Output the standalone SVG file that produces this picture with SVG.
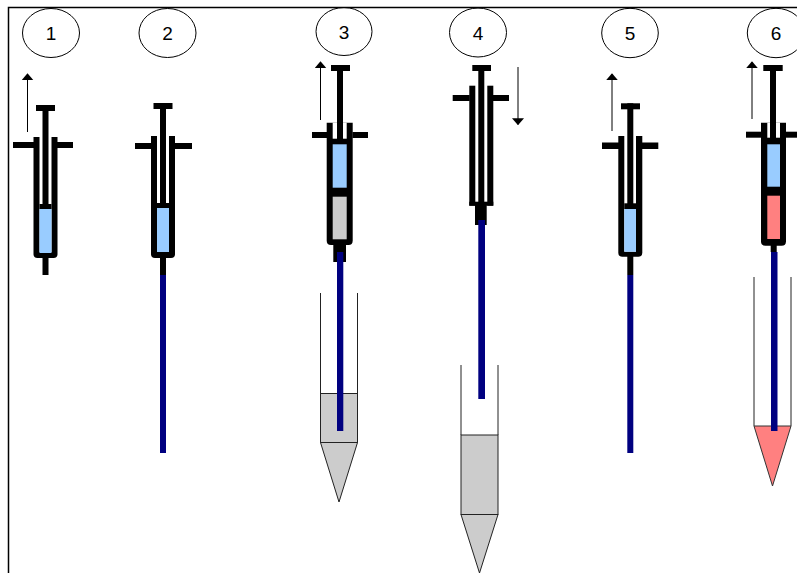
<svg xmlns="http://www.w3.org/2000/svg" width="797" height="573" viewBox="0 0 797 573">
  <style>
    .k { fill: #000; }
    .wh { fill: #fff; }
    .blue { fill: #99CCFF; }
    .grey { fill: #CCCCCC; stroke: #222; stroke-width: 1; }
    .red { fill: #FF8080; stroke: #333; stroke-width: 1; }
    .liqg { fill: #CCCCCC; }
    .liqr { fill: #FF8080; }
    .navy { fill: #000080; }
    .wall { stroke: #222; stroke-width: 1; fill: none; }
    .badge { fill: none; stroke: #000; stroke-width: 1; }
    .num { font-family: "Liberation Sans", Arial, sans-serif; font-size: 19px; fill: #000; text-anchor: middle; }
    .arr { stroke: #000; stroke-width: 1; fill: none; }
    .frame { stroke: #000; stroke-width: 1.5; fill: none; }
  </style>
  <defs>
    <marker id="head" viewBox="0 0 10 10" refX="9" refY="5" markerWidth="7" markerHeight="12" markerUnits="userSpaceOnUse" orient="auto" preserveAspectRatio="none">
      <path d="M0,0 L10,5 L0,10 Z" fill="#000"/>
    </marker>
  </defs>

  <rect width="797" height="573" fill="#fff"/>
  <path class="frame" d="M8.5,573 V7.5 H797"/>

  <!-- step 1: syringe drawing liquid up, no needle -->
  <g id="step1">
    <ellipse class="badge" cx="51" cy="33" rx="28.5" ry="24.5"/>
    <text class="num" x="51" y="40">1</text>
    <rect class="k" x="36" y="105" width="19" height="6"/>
    <rect class="k" x="13" y="142" width="21" height="6"/>
    <rect class="k" x="57" y="142" width="16" height="6"/>
    <path class="k" d="M33.5,137 V254 Q33.5,258 37.5,258 H53.5 Q57.5,258 57.5,254 V137 Z"/>
    <rect class="wh" x="39.5" y="137" width="12" height="115"/>
    <rect class="k" x="42.5" y="105" width="6" height="100"/>
    <rect class="k" x="39.5" y="204" width="12" height="5"/>
    <rect class="blue" x="39.5" y="209" width="12" height="44"/>
    <rect class="k" x="42.5" y="256" width="6" height="19"/>
  </g>

  <!-- step 2: needle fitted -->
  <g id="step2">
    <ellipse class="badge" cx="167.5" cy="33" rx="28.5" ry="24.5"/>
    <text class="num" x="167.5" y="40">2</text>
    <rect class="k" x="153.5" y="103" width="19" height="6"/>
    <rect class="k" x="135" y="143" width="16" height="6"/>
    <rect class="k" x="175" y="143" width="17" height="6"/>
    <path class="k" d="M151,136 V254 Q151,258 155,258 H171 Q175,258 175,254 V136 Z"/>
    <rect class="wh" x="157" y="136" width="12" height="116"/>
    <rect class="k" x="160" y="103" width="6" height="105"/>
    <rect class="k" x="157" y="203" width="12" height="5"/>
    <rect class="blue" x="157" y="208" width="12" height="44"/>
    <rect class="k" x="160" y="256" width="6" height="19"/>
    <rect class="navy" x="160" y="275" width="6" height="178"/>
  </g>

  <!-- step 3: sample drawn from the grey vial -->
  <g id="step3">
    <ellipse class="badge" cx="344" cy="31.5" rx="28" ry="24"/>
    <text class="num" x="344" y="38.5">3</text>
    <line class="wall" x1="320.5" y1="293" x2="320.5" y2="393"/>
    <line class="wall" x1="357.5" y1="293" x2="357.5" y2="393"/>
    <rect class="grey" x="320.5" y="393.5" width="37" height="49"/>
    <polygon class="grey" points="320.5,442.5 357.5,442.5 339,502"/>
    <rect class="k" x="331" y="65" width="19" height="6"/>
    <rect class="k" x="312" y="132" width="15" height="6"/>
    <rect class="k" x="352.5" y="132" width="15.5" height="6"/>
    <path class="k" d="M326.7,122.7 V240.5 Q326.7,245 331,245 H348.5 Q352.7,245 352.7,240.5 V122.7 Z"/>
    <rect class="wh" x="332.7" y="122.7" width="14" height="16"/>
    <rect class="k" x="337" y="65" width="6" height="75"/>
    <rect class="blue" x="332.7" y="144.3" width="14" height="43.4"/>
    <rect class="liqg" x="332.7" y="196.7" width="14" height="42.6"/>
    <rect class="k" x="333.3" y="244" width="12.7" height="18"/>
    <rect class="navy" x="337" y="252" width="6.3" height="179"/>
  </g>

  <!-- step 4: plunger pressed home into the grey vial -->
  <g id="step4">
    <ellipse class="badge" cx="478" cy="32.5" rx="28.5" ry="24.5"/>
    <text class="num" x="478" y="39.5">4</text>
    <line class="wall" x1="461" y1="365" x2="461" y2="435"/>
    <line class="wall" x1="498" y1="365" x2="498" y2="435"/>
    <rect class="grey" x="461" y="435" width="37" height="79.5"/>
    <polygon class="grey" points="461,514.5 498,514.5 479.5,573"/>
    <rect class="k" x="472.3" y="65" width="18.7" height="6"/>
    <rect class="k" x="478.3" y="65" width="6" height="140"/>
    <rect class="k" x="452.7" y="95" width="17" height="6"/>
    <rect class="k" x="493" y="95" width="16" height="6"/>
    <rect class="k" x="469.3" y="85.7" width="6" height="120"/>
    <rect class="k" x="487.3" y="85.7" width="6" height="120"/>
    <rect class="k" x="469.3" y="201.7" width="24" height="4"/>
    <rect class="k" x="475" y="205" width="11.7" height="20"/>
    <rect class="navy" x="478.3" y="220" width="6.7" height="179"/>
  </g>

  <!-- step 5: needle emptied, buffer only -->
  <g id="step5">
    <ellipse class="badge" cx="630" cy="33" rx="28.3" ry="24.7"/>
    <text class="num" x="630" y="40">5</text>
    <rect class="k" x="621" y="103.3" width="19" height="6"/>
    <rect class="k" x="602" y="142.5" width="17" height="6.5"/>
    <rect class="k" x="642" y="142.5" width="16.3" height="6.5"/>
    <path class="k" d="M618.3,136 V252.7 Q618.3,256.7 622.3,256.7 H638.3 Q642.3,256.7 642.3,252.7 V136 Z"/>
    <rect class="wh" x="624.3" y="136" width="11.7" height="115.7"/>
    <rect class="k" x="627.3" y="103.3" width="6" height="106"/>
    <rect class="k" x="624.3" y="203.3" width="11.7" height="5.7"/>
    <rect class="blue" x="624.3" y="209" width="11.7" height="42.7"/>
    <rect class="k" x="627.3" y="255" width="6" height="20"/>
    <rect class="navy" x="627.3" y="275" width="6" height="178"/>
  </g>

  <!-- step 6: sample drawn from the red vial -->
  <g id="step6">
    <ellipse class="badge" cx="776" cy="33" rx="28.7" ry="24.7"/>
    <text class="num" x="776" y="40">6</text>
    <line class="wall" x1="754" y1="277" x2="754" y2="426"/>
    <line class="wall" x1="791" y1="277" x2="791" y2="426"/>
    <polygon class="red" points="754,426 791,426 772.5,486"/>
    <rect class="k" x="763.3" y="65" width="19.4" height="6"/>
    <rect class="k" x="746" y="131.7" width="15.5" height="6"/>
    <rect class="k" x="785.5" y="131.7" width="11.5" height="6"/>
    <path class="k" d="M761,122.7 V241.2 Q761,245.7 765.5,245.7 H781.5 Q786,245.7 786,241.2 V122.7 Z"/>
    <rect class="wh" x="767.3" y="122.7" width="12.7" height="15"/>
    <rect class="k" x="770" y="65" width="6" height="75"/>
    <rect class="blue" x="767.3" y="144.3" width="12.7" height="42.4"/>
    <rect class="liqr" x="767.3" y="195.7" width="12.7" height="43.3"/>
    <rect class="k" x="770.7" y="244" width="6" height="8"/>
    <rect class="navy" x="771" y="252" width="6.5" height="179"/>
  </g>

  <!-- plunger movement arrows -->
  <g id="connectors">
    <line class="arr" x1="27.5" y1="132" x2="27.5" y2="74" marker-end="url(#head)"/>
    <line class="arr" x1="320.5" y1="120" x2="320.5" y2="62" marker-end="url(#head)"/>
    <line class="arr" x1="518" y1="67" x2="518" y2="124.5" marker-end="url(#head)"/>
    <line class="arr" x1="612" y1="131" x2="612" y2="74" marker-end="url(#head)"/>
    <line class="arr" x1="752" y1="119" x2="752" y2="62" marker-end="url(#head)"/>
  </g>
</svg>
